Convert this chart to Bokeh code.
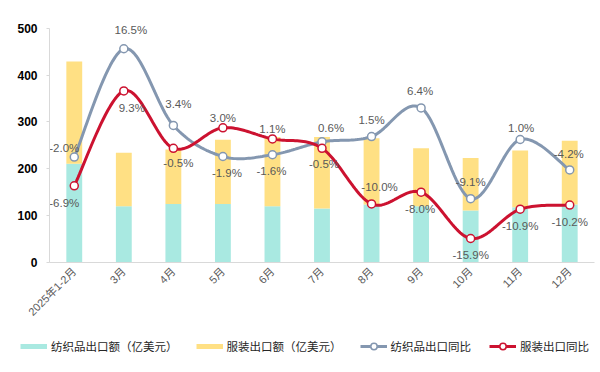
import math
import numpy as np
from bokeh.plotting import figure
from bokeh.layouts import column
from bokeh.models import (Range1d, FixedTicker, Legend, LegendItem, ColumnDataSource)
from bokeh.core.properties import value
from bokeh.embed import file_html
from bokeh.resources import INLINE

# ---------------- data ----------------
months = ["2025年1-2月", "3月", "4月", "5月", "6月", "7月", "8月", "9月", "10月", "11月", "12月"]
textile_export = [211, 120, 125, 125, 120, 115, 124, 120, 111, 118, 124]   # 亿美元
apparel_export = [218, 114, 116, 137, 148, 153, 141, 124, 112, 121, 136]   # 亿美元
textile_yoy = [-2.0, 16.5, 3.4, -1.9, -1.6, 0.6, 1.5, 6.4, -9.1, 1.0, -4.2]  # %
apparel_yoy = [-6.9, 9.3, -0.5, 3.0, 1.1, -0.5, -10.0, -8.0, -15.9, -10.9, -10.2]  # %
y_ticks = [0, 100, 200, 300, 400, 500]

series_names = ["纺织品出口额（亿美元）", "服装出口额（亿美元）", "纺织品出口同比", "服装出口同比"]

# ---------------- styles ----------------
TEAL = "#a9e9e1"
YELLOW = "#ffe084"
GRAY = "#8497b0"
RED = "#cc1230"
LABEL_COLOR = "#595959"
# label placement (screen px offsets) per point
textile_lbl_dx = [-10, 7, 5, 4, -1, 9, 0, -1, 0, 1, -1]
textile_lbl_dy = [-9, -19, -21, 17, 16, -14, -17, -17, -17, -12, -16]
apparel_lbl_dx = [-10, 8, 5, 0, 0, 2, 8, -1, 0, 0, 0]
apparel_lbl_dy = [17, 17, 15, -10, -10, 16, -17, 17, 17, 17, 17]

Y_MAX = 540           # headroom above the 500 axis end for labels
PCT_LO = -20          # secondary (hidden) axis: -20% .. 20% over 0 .. 500
PCT_HI = PCT_LO + (Y_MAX / 500) * 40


def smooth(ys, n=24):
    """Catmull-Rom (Excel-like) smoothing through points at x=i+0.5."""
    pts = [(i + 0.5, y) for i, y in enumerate(ys)]
    ext = [pts[0]] + pts + [pts[-1]]
    xs_out, ys_out = [], []
    for i in range(1, len(ext) - 2):
        p0, p1, p2, p3 = ext[i - 1], ext[i], ext[i + 1], ext[i + 2]
        c1 = (p1[0] + (p2[0] - p0[0]) / 6, p1[1] + (p2[1] - p0[1]) / 6)
        c2 = (p2[0] - (p3[0] - p1[0]) / 6, p2[1] - (p3[1] - p1[1]) / 6)
        for t in np.linspace(0, 1, n, endpoint=(i == len(ext) - 3)):
            a = (1 - t) ** 3
            b = 3 * (1 - t) ** 2 * t
            c = 3 * (1 - t) * t ** 2
            d = t ** 3
            xs_out.append(a * p1[0] + b * c1[0] + c * c2[0] + d * p2[0])
            ys_out.append(a * p1[1] + b * c1[1] + c * c2[1] + d * p2[1])
    return xs_out, ys_out


MAIN_H = 336
p = figure(width=600, height=MAIN_H, x_range=Range1d(0, len(months)), y_range=Range1d(0, Y_MAX),
           output_backend="svg", toolbar_location=None,
           min_border_left=49, min_border_right=6, min_border_top=9,
           min_border_bottom=MAIN_H - 262)
p.frame_align = False
p.extra_y_ranges = {"pct": Range1d(PCT_LO, PCT_HI)}

xi = [i + 0.5 for i in range(len(months))]

# stacked bars
src = ColumnDataSource(dict(x=xi, textile=textile_export, apparel=apparel_export))
bars = p.vbar_stack(["textile", "apparel"], x="x", width=0.32, source=src,
                    color=[TEAL, YELLOW], line_color=None)

# lines
gx, gy = smooth(textile_yoy)
rx, ry = smooth(apparel_yoy)
gline = p.line(gx, gy, line_color=GRAY, line_width=3, y_range_name="pct")
rline = p.line(rx, ry, line_color=RED, line_width=3, y_range_name="pct")
gpts = p.scatter(xi, textile_yoy, size=8, fill_color="white", line_color=GRAY, line_width=1.5,
                 y_range_name="pct")
rpts = p.scatter(xi, apparel_yoy, size=8, fill_color="white", line_color=RED, line_width=1.5,
                 y_range_name="pct")

# data labels
def fmt(v):
    return f"{v:.1f}%"

tsrc = ColumnDataSource(dict(x=xi, y=textile_yoy, t=[fmt(v) for v in textile_yoy],
                             dx=textile_lbl_dx, dy=textile_lbl_dy))
asrc = ColumnDataSource(dict(x=xi, y=apparel_yoy, t=[fmt(v) for v in apparel_yoy],
                             dx=apparel_lbl_dx, dy=apparel_lbl_dy))
for s in (tsrc, asrc):
    p.text(x="x", y="y", text="t", x_offset="dx", y_offset="dy", source=s,
           y_range_name="pct",
           text_align="center", text_baseline="middle",
           text_font=value("Liberation Sans"), text_font_size="11.5px",
           text_color=LABEL_COLOR)

# axes
p.xgrid.visible = False
p.ygrid.visible = False
p.outline_line_color = None

ya = p.yaxis[0]
ya.ticker = FixedTicker(ticks=y_ticks)
ya.bounds = (0, 500)
ya.axis_line_color = "#d9d9d9"
ya.major_tick_line_color = "#d9d9d9"
ya.major_tick_out = 3
ya.major_tick_in = 0
ya.minor_tick_line_color = None
ya.major_label_standoff = 9
ya.major_label_text_font = "Liberation Sans"
ya.major_label_text_font_style = "bold"
ya.major_label_text_font_size = "12px"
ya.major_label_text_color = "#000000"

xa = p.xaxis[0]
xa.ticker = FixedTicker(ticks=xi)
xa.major_label_overrides = {x: m for x, m in zip(xi, months)}
xa.axis_line_color = "#d9d9d9"
xa.major_tick_line_color = None
xa.major_tick_out = 0
xa.major_tick_in = 0
xa.minor_tick_line_color = None
xa.major_label_orientation = math.pi / 4
xa.major_label_standoff = 7
xa.major_label_text_font = "Liberation Sans, Noto Sans CJK SC"
xa.major_label_text_font_size = "11px"
xa.major_label_text_color = LABEL_COLOR

# ---------------- legend strip (separate figure below the chart) ----------------
LEG_H = 372 - MAIN_H
lg = figure(width=600, height=LEG_H, x_range=Range1d(0, 1), y_range=Range1d(1000, 1001),
            output_backend="svg", toolbar_location=None,
            x_axis_type=None, y_axis_type=None, min_border=0)
lg.frame_align = False
lg.grid.visible = False
lg.outline_line_color = None
# stand-in renderers (their data lie outside this strip's ranges, so only the legend shows)
sw_t = lg.line(xi, textile_export, line_color=TEAL, line_width=5)
sw_a = lg.line(xi, apparel_export, line_color=YELLOW, line_width=5)
lg_gl = lg.line(xi, textile_yoy, line_color=GRAY, line_width=3)
lg_gp = lg.scatter(xi, textile_yoy, size=8, fill_color="white", line_color=GRAY, line_width=1.5)
lg_rl = lg.line(xi, apparel_yoy, line_color=RED, line_width=3)
lg_rp = lg.scatter(xi, apparel_yoy, size=8, fill_color="white", line_color=RED, line_width=1.5)

legend = Legend(items=[
    LegendItem(label=series_names[0], renderers=[sw_t]),
    LegendItem(label=series_names[1], renderers=[sw_a]),
    LegendItem(label=series_names[2], renderers=[lg_gl, lg_gp]),
    LegendItem(label=series_names[3], renderers=[lg_rl, lg_rp]),
], orientation="horizontal", location=(20, LEG_H - 18), spacing=18, label_standoff=4,
    glyph_width=27, glyph_height=16, label_height=16,
    label_text_font="Noto Sans CJK SC", label_text_font_size="11.5px",
    label_text_color="#262626", border_line_color=None, background_fill_alpha=0,
    padding=0, margin=0)
lg.add_layout(legend)

open("out.html", "w").write(file_html(column(p, lg, spacing=0), INLINE))
